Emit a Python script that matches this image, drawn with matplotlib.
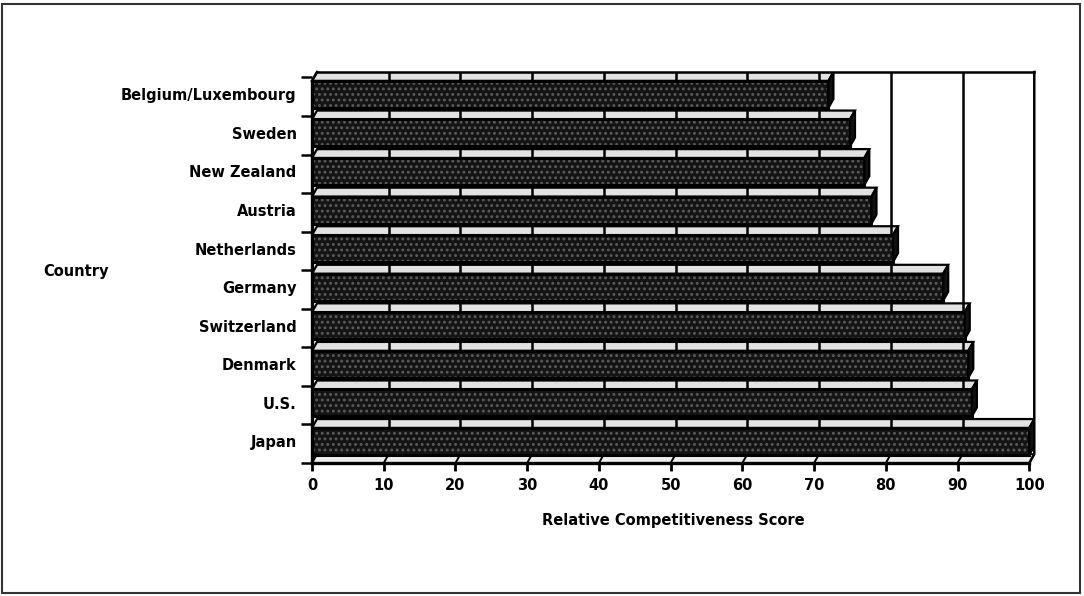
import matplotlib
matplotlib.use("Agg")
import matplotlib.pyplot as plt
from matplotlib.patches import Polygon, Rectangle

countries = ["Belgium/Luxembourg", "Sweden", "New Zealand", "Austria", "Netherlands",
             "Germany", "Switzerland", "Denmark", "U.S.", "Japan"]
scores = [72, 75, 77, 78, 81, 88, 91, 91.5, 92, 100]
x_ticks = list(range(0, 101, 10))

plt.rcParams['font.family'] = ['DejaVu Sans']
plt.rcParams['hatch.linewidth'] = 1.3

W, H = 1084, 596
fig = plt.figure(figsize=(W / 100, H / 100), dpi=100)
ax = fig.add_axes([312 / W, 133 / H, 723 / W, 391 / H])

xmax = 100.8
ymin, ymax = -0.56, 9.58
ax.set_xlim(0, xmax)
ax.set_ylim(ymin, ymax)

# 3D depth of the chart, in data units
dx, dy = 0.7, 0.23
bar_h = 0.7

# rows go top to bottom
rows = [len(countries) - 1 - i for i in range(len(countries))]

# floor strip
floor = Polygon([(0, ymin), (dx, ymin + dy), (100 + dx, ymin + dy), (100, ymin)],
                closed=True, facecolor='#eeeeee', edgecolor='black', lw=1.4, zorder=1)
ax.add_patch(floor)

for y, v in zip(rows, scores):
    top = y + bar_h / 2
    ax.add_patch(Polygon([(0, top), (dx, top + dy), (v + dx, top + dy), (v, top)],
                         closed=True, facecolor='#e2e2e2', edgecolor='black',
                         lw=1.6, zorder=1))

# back wall gridlines
for t in x_ticks[1:-1]:
    ax.plot([t, t + dx], [ymin, ymin + dy], color='black', lw=1.4, zorder=2)
    ax.plot([t + dx, t + dx], [ymin + dy, ymax], color='black', lw=1.8, zorder=2)

# front and side faces of the bars
ax.barh(rows, scores, height=bar_h, color='#141414', edgecolor='#5c5c5c',
        hatch='...', lw=0, zorder=3)
ax.barh(rows, scores, height=bar_h, fill=False, edgecolor='black', lw=2.2, zorder=4)
for y, v in zip(rows, scores):
    top = y + bar_h / 2
    bot = y - bar_h / 2
    ax.add_patch(Polygon([(v, bot), (v, top), (v + dx, top + dy), (v + dx, bot + dy)],
                         closed=True, facecolor='#111111', edgecolor='black',
                         lw=1.6, zorder=4))

# wall frame
ax.plot([dx, 100 + dx], [ymax, ymax], color='black', lw=1.8, zorder=5, clip_on=False)
ax.plot([100 + dx, 100 + dx, 100], [ymax, ymin + dy, ymin], color='black', lw=1.8,
        zorder=5, clip_on=False)
ax.plot([0, dx], [ymax - dy, ymax], color='black', lw=1.8, zorder=5, clip_on=False)
ax.plot([0, 0], [ymin, ymax - dy], color='black', lw=2.4, zorder=5, clip_on=False)
ax.plot([0, 100], [ymin, ymin], color='black', lw=2.4, zorder=5, clip_on=False)

for s in ax.spines.values():
    s.set_visible(False)

ax.set_xticks(x_ticks)
ax.set_xticklabels([str(t) for t in x_ticks], fontsize=10.5, fontweight='bold')
ax.tick_params(axis='x', direction='out', length=6, width=2, pad=5)

ax.set_yticks(rows)
ax.set_yticklabels(countries, fontsize=10.5, fontweight='bold')
ax.tick_params(axis='y', which='major', length=0, pad=11)
ax.set_yticks([r - 0.56 for r in rows] + [rows[0] + 0.44], minor=True)
ax.tick_params(axis='y', which='minor', direction='out', length=8, width=1.8)

ax.set_xlabel("Relative Competitiveness Score", fontsize=10.5, fontweight='bold',
              labelpad=14)
ax.set_ylabel("Country", fontsize=10.5, fontweight='bold', rotation=0,
              ha='center', va='center')
ax.yaxis.set_label_coords(-0.326, 0.491)

# outer border
fig.add_artist(Rectangle((2 / W, 3 / H), 1078 / W, 589 / H, transform=fig.transFigure,
                         fill=False, edgecolor='#333333', lw=1.5))

fig.savefig("out.png", dpi=100)
